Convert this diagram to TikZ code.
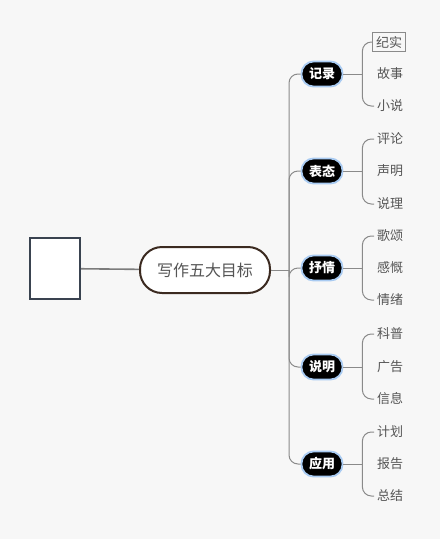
\documentclass[tikz,border=0pt]{standalone}
\usepackage{fontspec}
\setmainfont{Noto Sans CJK SC}
\usepackage{tikz}
\usetikzlibrary{arrows.meta, positioning, shapes.misc}
\definecolor{bgcol}{HTML}{F7F7F7}
\definecolor{linecol}{HTML}{8A8A8A}
\definecolor{leafcol}{HTML}{555555}
\definecolor{rootrim}{HTML}{3B2A20}
\definecolor{boxrim}{HTML}{3A4350}
\definecolor{glowcol}{HTML}{A9CBF2}

\begin{document}
\begin{tikzpicture}[x=1pt, y=-1pt,
    topic/.style={draw=glowcol, line width=1.8pt, fill=black, text=white, rounded corners=12pt,
        minimum width=41pt, minimum height=25pt, inner sep=0pt, font=\fontsize{13}{15}\selectfont\bfseries},
    leaf/.style={text=leafcol, inner sep=3pt, anchor=west, font=\fontsize{13}{15}\selectfont},
    link/.style={draw=linecol, line width=1pt, rounded corners=9pt}]
    % Nền
    \fill[bgcol] (0,0) rectangle (440,539);
    \useasboundingbox (0,0) rectangle (440,539);

    % Khung trống và chủ đề chính
    \node[draw=boxrim, line width=2.2pt, fill=white, minimum width=50pt, minimum height=61pt] (blank) at (55,268.5) {};
    \node[draw=rootrim, line width=2pt, fill=white, rounded corners=22pt, minimum width=130pt, minimum height=46pt,
        text=leafcol, font=\fontsize{16}{18}\selectfont] (root) at (205,270) {写作五大目标};
    \draw[draw=linecol!90!black, line width=1.6pt] (blank) -- (root);

    % Nhánh cấp một
    \node[topic] (jilu) at (322,74) {记录};
    \node[topic] (biaotai) at (322,171) {表态};
    \node[topic] (shuqing) at (322,268) {抒情};
    \node[topic] (shuoming) at (322,367) {说明};
    \node[topic] (yingyong) at (322,464) {应用};

    % Nhánh cấp hai
    \node[leaf, draw=linecol, line width=1.2pt, inner sep=3.5pt] (jishi) at (372,42) {纪实};
    \node[leaf] (gushi) at (374,74) {故事};
    \node[leaf] (xiaoshuo) at (374,106) {小说};
    \node[leaf] (pinglun) at (374,139) {评论};
    \node[leaf] (shengming) at (374,171) {声明};
    \node[leaf] (shuoli) at (374,204) {说理};
    \node[leaf] (gesong) at (374,236) {歌颂};
    \node[leaf] (gankai) at (374,268) {感慨};
    \node[leaf] (qingxu) at (374,300) {情绪};
    \node[leaf] (kepu) at (374,334) {科普};
    \node[leaf] (guanggao) at (374,367) {广告};
    \node[leaf] (xinxi) at (374,399) {信息};
    \node[leaf] (jihua) at (374,432) {计划};
    \node[leaf] (baogao) at (374,464) {报告};
    \node[leaf] (zongjie) at (374,496) {总结};

    % Đường nối
    \coordinate (hub) at (289,270);
    \draw[link] (root.east) -- (hub);
    \foreach \t in {jilu, biaotai, shuqing, shuoming, yingyong}
        \draw[link] (hub) |- (\t.west);
    \foreach \t/\a/\b/\c in {jilu/jishi/gushi/xiaoshuo, biaotai/pinglun/shengming/shuoli,
        shuqing/gesong/gankai/qingxu, shuoming/kepu/guanggao/xinxi, yingyong/jihua/baogao/zongjie} {
        \draw[link] (\t.east) -- ++(19,0) coordinate (\t-hub);
        \draw[link] (\t-hub) |- (\a.west);
        \draw[link] (\t-hub) |- (\c.west);
    }
\end{tikzpicture}
\end{document}
